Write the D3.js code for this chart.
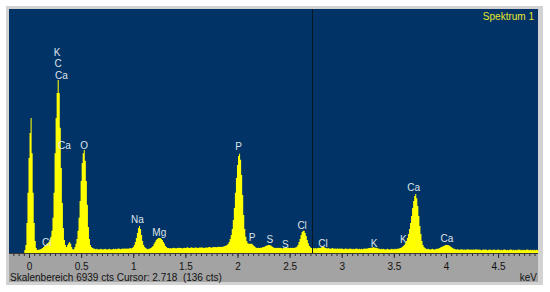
<!DOCTYPE html>
<html>
<head>
<meta charset="utf-8">
<script src="https://cdn.jsdelivr.net/npm/d3@7"></script>
<style>
  body { margin: 0; background: #fff; }
  text { font-family: "Liberation Sans", Arial, sans-serif; }
</style>
</head>
<body>
<div id="chart"></div>
<script>
// spectrum counts, 10 eV per channel, each block starts at its own energy
const channelWidth = 0.01;

const startA = -0.04;
const countsA = [
  85, 230, 850, 1710, 2700, 3410, 3840, 2840, 1710, 850,
  340, 140, 85, 90, 100, 110, 120, 140, 170, 200,
  230, 260, 280, 310, 370, 460, 630, 1000, 1710, 2840,
  3840, 4550, 4920, 4550, 3560, 2420, 1420, 710, 370, 230,
  170, 230, 280, 310, 260, 170, 110, 110, 170, 260,
  400, 630, 1000, 1480, 2050, 2560, 2840, 2930, 2620, 2050,
  1370, 740, 400, 230, 170, 140, 130, 120, 110, 120,
  110, 100, 110, 120, 110, 100, 110, 120, 110, 100,
  110, 120, 110, 100, 110, 120, 110, 120, 110, 120,
  130, 120, 110, 120, 130, 120, 130, 120, 130, 120,
  130, 140, 130, 140
];

const startB = 1.00;
const countsB = [
  170, 230, 310, 430, 570, 710, 770, 680, 510, 340,
  230, 170, 140, 120, 110, 120, 130, 140, 170, 200,
  260, 310, 370, 400, 430, 430, 430, 400, 370, 310,
  260, 200, 170, 140, 140, 130, 140, 130, 140, 150,
  140, 130, 140, 150, 140, 150, 140, 130, 140, 150,
  140, 150, 160, 150, 140, 150, 160, 150, 140, 150,
  160, 150, 140, 150, 160, 150, 160, 150, 140, 150,
  160, 150, 160, 170, 160, 150, 160, 170, 160, 170,
  160, 170, 180, 170, 180, 170, 180, 190, 200, 210,
  230, 260, 310, 400, 510, 680, 940, 1280, 1710, 2130,
  2500, 2760, 2820, 2650, 2220, 1650, 1080, 680, 460, 340,
  280, 260, 260, 260, 260, 230, 200, 170, 150, 140,
  150, 140, 150, 150, 160, 170, 180, 200, 210, 220,
  230, 230, 210, 190, 170, 150, 140, 150, 140, 150,
  140, 150, 140, 130, 140, 150, 160, 150, 140, 150
];

const startC = 2.50;
const countsC = [
  140, 150, 140, 150, 140, 150, 160, 180, 230, 310,
  400, 510, 600, 630, 630, 570, 480, 370, 280, 200,
  160, 140, 136, 140, 130, 140, 130, 140, 150, 140,
  150, 170, 180, 170, 150, 140, 130, 140, 130, 120,
  130, 140, 130, 120, 130, 120, 130, 120, 130, 120,
  130, 120, 110, 120, 130, 120, 110, 120, 130, 120,
  110, 120, 110, 120, 130, 120, 110, 120, 110, 120,
  110, 120, 130, 120, 130, 130, 140, 140, 150, 150,
  160, 160, 150, 150, 140, 130, 120, 110, 120, 110,
  120, 110, 100, 110, 120, 110, 100, 110, 120, 110
];

const startD = 3.50;
const countsD = [
  110, 120, 110, 120, 120, 130, 140, 150, 170, 200,
  230, 280, 340, 430, 540, 680, 850, 1050, 1280, 1480,
  1620, 1680, 1560, 1340, 1050, 770, 540, 340, 230, 170,
  140, 120, 110, 120, 110, 100, 110, 120, 110, 100,
  110, 120, 120, 130, 140, 160, 170, 190, 200, 220,
  230, 230, 230, 210, 200, 170, 150, 130, 120, 110,
  100, 110, 100, 90, 100, 110, 100, 90, 100, 90,
  100, 110, 100, 90, 100, 90, 100, 90, 100, 110,
  100, 90, 100, 90, 80, 90, 100, 90, 100, 90,
  80, 90, 100, 90, 80, 90, 100, 90, 80, 90,
  100, 90, 80, 90, 80, 90, 100, 90, 80, 90,
  80, 90, 100, 90, 80, 90, 80, 90, 80, 90,
  100, 90, 80, 90, 80, 90, 80, 90, 100, 90,
  80, 90, 80, 90, 80, 90, 80, 90, 80
];

// element markers: text, energy (keV), height of the label (cts)
const peakLabels = [
  ["Cl", 0.17, 310],
  ["K", 0.27, 5690],
  ["C", 0.28, 5375],
  ["Ca", 0.31, 5034],
  ["Ca", 0.34, 3070],
  ["O", 0.53, 3070],
  ["Na", 1.04, 940],
  ["Mg", 1.25, 570],
  ["P", 2.01, 3015],
  ["P", 2.14, 455],
  ["S", 2.31, 370],
  ["S", 2.46, 228],
  ["Cl", 2.62, 770],
  ["Cl", 2.82, 284],
  ["K", 3.31, 256],
  ["K", 3.59, 398],
  ["Ca", 3.69, 1850],
  ["Ca", 4.01, 400]
];

const tickValues = [0, 0.5, 1, 1.5, 2, 2.5, 3, 3.5, 4, 4.5];
const fullScale = 6939;
const cursorEnergy = 2.718;
const cursorCounts = 136;
const spectrumName = "Spektrum 1";

const W = 550, H = 292;
const PLOT = { left: 9, right: 538, top: 9, bottom: 253 };

const channels = [];
[[startA, countsA], [startB, countsB], [startC, countsC], [startD, countsD]].forEach(([s, arr]) => {
  arr.forEach((c, i) => channels.push({ e: +(s + i * channelWidth).toFixed(2), c: c }));
});

const svg = d3.select("#chart").append("svg")
  .attr("width", W)
  .attr("height", H);

// frame
svg.append("rect")
  .attr("x", 6).attr("y", 6)
  .attr("width", 537).attr("height", 279)
  .attr("fill", "#d2d2d2");

svg.append("rect")
  .attr("x", PLOT.left).attr("y", PLOT.bottom)
  .attr("width", PLOT.right - PLOT.left).attr("height", 29)
  .attr("fill", "#a3a3a3");

svg.append("rect")
  .attr("x", PLOT.left).attr("y", PLOT.top)
  .attr("width", PLOT.right - PLOT.left).attr("height", PLOT.bottom - PLOT.top)
  .attr("fill", "#013366");

const x = d3.scaleLinear()
  .domain([-0.192, 4.883])
  .range([PLOT.left, PLOT.right]);

const y = d3.scaleLinear()
  .domain([0, fullScale])
  .range([PLOT.bottom, PLOT.top]);

// spectrum as stepped area
const stepData = channels.map(d => ({ e: d.e - channelWidth / 2, c: d.c }));
const last = channels[channels.length - 1];
stepData.push({ e: last.e + channelWidth / 2, c: last.c });

const area = d3.area()
  .curve(d3.curveStepAfter)
  .x(d => x(d.e))
  .y0(y(0))
  .y1(d => y(d.c));

svg.append("path")
  .datum(stepData)
  .attr("d", area)
  .attr("fill", "#ffff00");

// cursor
svg.append("line")
  .attr("x1", Math.round(x(cursorEnergy)) + 0.5)
  .attr("x2", Math.round(x(cursorEnergy)) + 0.5)
  .attr("y1", PLOT.top)
  .attr("y2", PLOT.bottom)
  .attr("stroke", "#0a1622")
  .attr("stroke-width", 1);

// element labels
svg.append("g")
  .selectAll("text")
  .data(peakLabels)
  .join("text")
  .attr("x", d => x(d[1]))
  .attr("y", d => y(d[2]))
  .attr("dy", "0.35em")
  .attr("text-anchor", "middle")
  .attr("fill", "#dfe3ea")
  .style("font-size", "10px")
  .text(d => d[0]);

svg.append("text")
  .attr("x", 534)
  .attr("y", 16)
  .attr("dy", "0.35em")
  .attr("text-anchor", "end")
  .attr("fill", "#e6e62a")
  .style("font-size", "10px")
  .text(spectrumName);

// energy axis
const minorTicks = d3.range(-0.15, 4.86, 0.05).map(v => +v.toFixed(2));

svg.append("g")
  .attr("transform", `translate(0,${PLOT.bottom})`)
  .call(d3.axisBottom(x).tickValues(minorTicks).tickSize(3).tickFormat(""))
  .call(g => g.select(".domain").remove())
  .call(g => g.selectAll("line").attr("stroke", "#2a2a2a"));

const xAxisGroup = svg.append("g")
  .attr("transform", `translate(0,${PLOT.bottom})`)
  .call(d3.axisBottom(x).tickValues(tickValues).tickSize(5).tickPadding(5).tickFormat(d3.format("~g")));

xAxisGroup.select(".domain").remove();
xAxisGroup.selectAll("line").attr("stroke", "#2a2a2a");
xAxisGroup.selectAll("text")
  .attr("fill", "#111")
  .style("font-size", "10px")
  .style("font-family", "'Liberation Sans', Arial, sans-serif");

svg.append("line")
  .attr("x1", PLOT.left).attr("x2", PLOT.right)
  .attr("y1", PLOT.bottom + 0.5).attr("y2", PLOT.bottom + 0.5)
  .attr("stroke", "#3a3a3a");

svg.append("text")
  .attr("x", 537)
  .attr("y", 277)
  .attr("dy", "0.35em")
  .attr("text-anchor", "end")
  .attr("fill", "#111")
  .style("font-size", "10px")
  .text("keV");

svg.append("text")
  .attr("x", 10)
  .attr("y", 277)
  .attr("dy", "0.35em")
  .attr("fill", "#111")
  .style("font-size", "10px")
  .style("white-space", "pre")
  .text(`Skalenbereich ${fullScale} cts Cursor: ${cursorEnergy}  (${cursorCounts} cts)`);
</script>
</body>
</html>
